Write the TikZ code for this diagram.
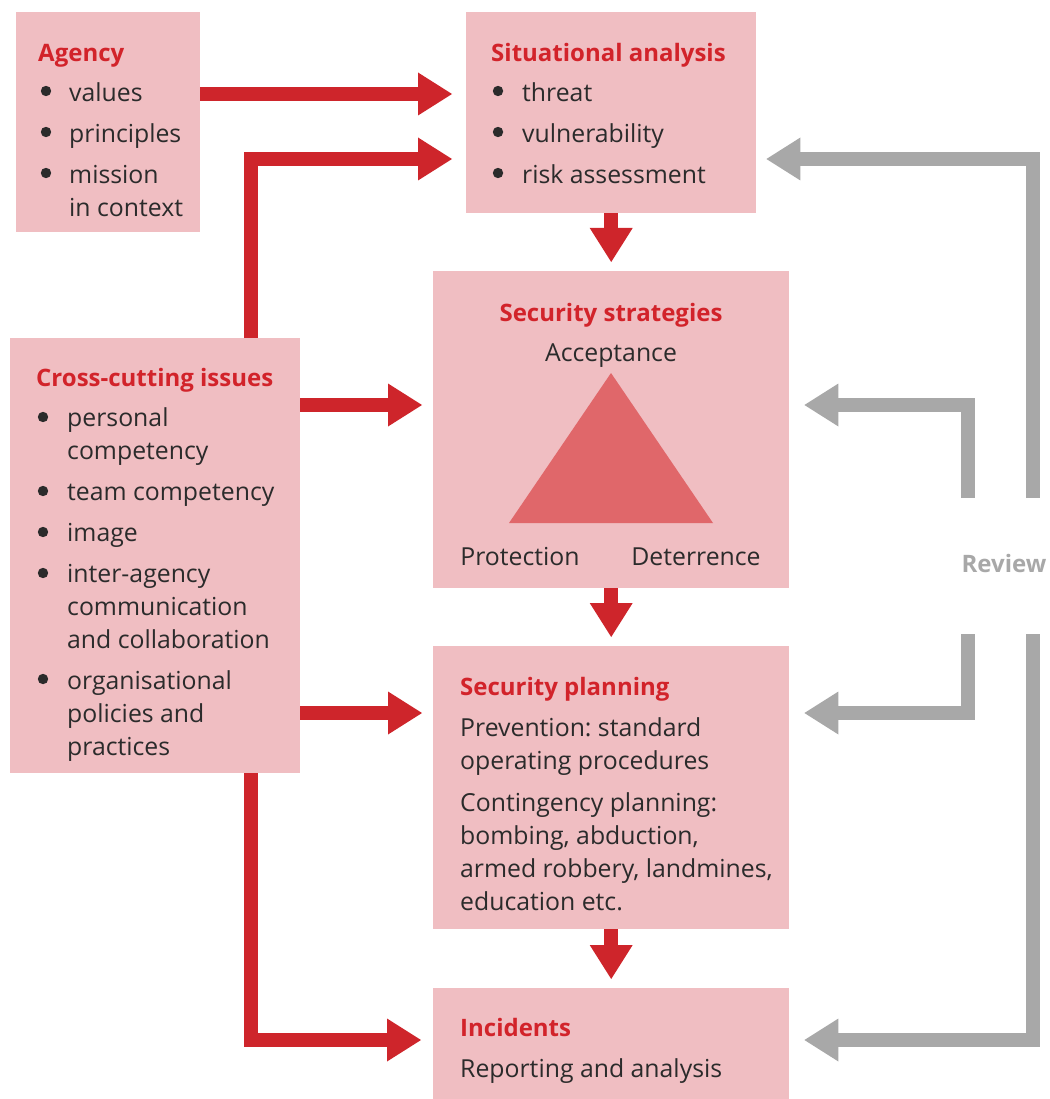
\documentclass[tikz,border=0pt]{standalone}
\usepackage{fontspec}
\setmainfont{Open Sans}
\usetikzlibrary{arrows.meta,calc}
\definecolor{boxpink}{HTML}{F0BEC2}
\definecolor{arrred}{HTML}{CE252B}
\definecolor{titred}{HTML}{D2232A}
\definecolor{revgray}{HTML}{A8A8A8}
\definecolor{trired}{HTML}{E0676A}
\definecolor{txtc}{HTML}{2B2B2B}
\frenchspacing
\newlength{\bw}\setlength{\bw}{31pt}
\newcommand{\bitem}[1]{\hspace*{\bw}#1}
\newcommand{\cont}[1]{\hspace*{\bw}#1}
\newcommand{\ttl}[1]{{\rule{0pt}{24pt}\fontsize{24}{33}\selectfont\bfseries\color{titred}#1}}
\tikzset{
  box/.style={fill=boxpink, draw=none, inner sep=0pt, anchor=north west},
  txtblock/.style={anchor=north west, inner sep=0pt, align=left, text=txtc,
    font=\fontsize{24.8}{33}\selectfont},
  lbl/.style={anchor=base, inner sep=0pt, text=txtc, font=\fontsize{24.8}{33}\selectfont},
  bulletdot/.style={fill=txtc},
  redarr/.style={draw=arrred, line width=14pt, line join=miter,
    -{Triangle[length=34pt,width=43pt,line width=0pt]}},
  grayarr/.style={draw=revgray, line width=14pt, line join=miter,
    -{Triangle[length=34pt,width=43pt,line width=0pt]}},
}
\begin{document}
\begin{tikzpicture}[x=1pt,y=-1pt]
\useasboundingbox (0,0) rectangle (1049,1099);
% boxes
\node[box, minimum width=184pt, minimum height=220pt] (agency) at (16,12) {};
\node[box, minimum width=290pt, minimum height=201pt] (sa) at (466,12) {};
\node[box, minimum width=356pt, minimum height=317pt] (ss) at (433,271) {};
\node[box, minimum width=290pt, minimum height=435pt] (cc) at (10,338) {};
\node[box, minimum width=356pt, minimum height=283pt] (sp) at (433,646) {};
\node[box, minimum width=356pt, minimum height=111pt] (inc) at (433,988) {};
% triangle
\fill[trired] (611,373) -- (509,523) -- (713,523) -- cycle;
% bullets
\foreach \yy in {91,132,173} \fill[bulletdot] (46,\yy) circle[radius=5.2];
\foreach \yy in {91,132,173} \fill[bulletdot] (498,\yy) circle[radius=5.2];
\foreach \yy in {417,491,532,573,679} \fill[bulletdot] (43,\yy) circle[radius=5.2];
% texts
\node[txtblock] (agencytxt) at (38,37) {\ttl{Agency}\\[7pt]
  \bitem{values}\\[8pt]
  \bitem{principles}\\[8pt]
  \bitem{mission}\\
  \cont{in context}};
\node[txtblock] (satxt) at (491,37) {\ttl{Situational analysis}\\[7pt]
  \bitem{threat}\\[8pt]
  \bitem{vulnerability}\\[8pt]
  \bitem{risk assessment}};
\node[lbl, text=titred, font=\fontsize{24}{33}\selectfont\bfseries] (sstitle) at (611,321) {Security strategies};
\node[lbl] (acc) at (611,361) {Acceptance};
\node[lbl] (prot) at (520,565) {Protection};
\node[lbl] (det) at (696,565) {Deterrence};
\node[txtblock] (cctxt) at (36,362) {\ttl{Cross-cutting issues}\\[7pt]
  \bitem{personal}\\
  \cont{competency}\\[8pt]
  \bitem{team competency}\\[8pt]
  \bitem{image}\\[8pt]
  \bitem{inter-agency}\\
  \cont{communication}\\
  \cont{and collaboration}\\[8pt]
  \bitem{organisational}\\
  \cont{policies and}\\
  \cont{practices}};
\node[txtblock] (sptxt) at (460,671) {\ttl{Security planning}\\[8pt]
  Prevention: standard\\
  operating procedures\\[9pt]
  Contingency planning:\\
  bombing, abduction,\\
  armed robbery, landmines,\\
  education etc.};
\node[txtblock] (inctxt) at (460,1012) {\ttl{Incidents}\\[8pt]
  Reporting and analysis};
\node[lbl, anchor=center, text=revgray, font=\fontsize{24}{33}\selectfont\bfseries] (review) at (1004,563) {Review};
% red connectors
\draw[redarr] (agency.east|-0,94) -- ($(sa.west|-0,94)+(-14,0)$);
\draw[redarr] ($(cc.north east)+(-49,0)$) |- ($(sa.west|-0,159)+(-14,0)$);
\draw[redarr] (cc.east|-0,405) -- ($(ss.west|-0,405)+(-11,0)$);
\draw[redarr] (cc.east|-0,713) -- ($(sp.west|-0,713)+(-11,0)$);
\draw[redarr] ($(cc.south east)+(-49,0)$) |- ($(inc.west|-0,1040)+(-12,0)$);
\draw[redarr] (sa.south) -- ($(ss.north)+(0,-9)$);
\draw[redarr] (ss.south) -- ($(sp.north)+(0,-9)$);
\draw[redarr] (sp.south) -- ($(inc.north)+(0,-9)$);
% review connectors
\coordinate (ro1) at (1033,498);
\coordinate (ri1) at (968,498);
\coordinate (ri2) at (968,634);
\coordinate (ro2) at (1033,634);
\draw[grayarr] (ro1) |- ($(sa.east|-0,159)+(10,0)$);
\draw[grayarr] (ri1) |- ($(ss.east|-0,405)+(15,0)$);
\draw[grayarr] (ri2) |- ($(sp.east|-0,713)+(15,0)$);
\draw[grayarr] (ro2) |- ($(inc.east|-0,1040)+(15,0)$);
\end{tikzpicture}
\end{document}
